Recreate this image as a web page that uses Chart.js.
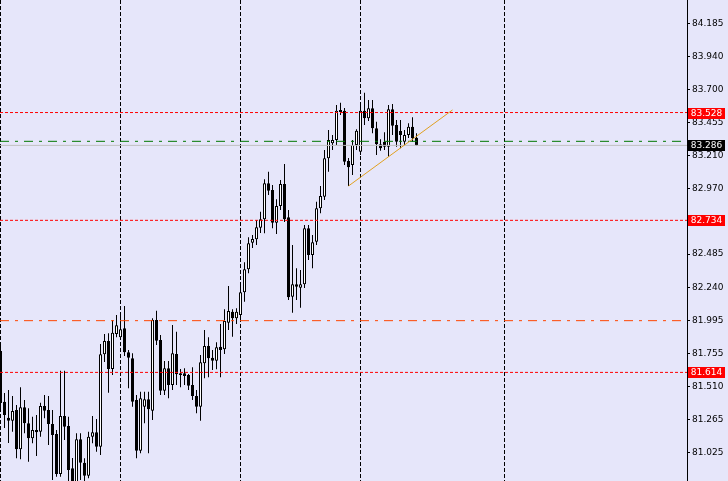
<!DOCTYPE html>
<html>
<head>
<meta charset="utf-8">
<script src="https://cdn.jsdelivr.net/npm/chart.js@4.4.0/dist/chart.umd.min.js"></script>
<style>
html, body { margin: 0; padding: 0; background: #E6E6FA; }
#wrap { width: 728px; height: 481px; }
</style>
</head>
<body>
<div id="wrap"><canvas id="chart"></canvas></div>
<script>
// OHLC, one value per bar, oldest first
const openPrices = [
    81.772, 81.398, 81.280, 81.258, 81.337, 81.047, 81.357, 81.239, 81.128, 81.190,
    81.177, 81.366, 81.337, 81.234, 81.160, 80.866, 81.293, 81.219, 80.907, 80.792,
    81.121, 80.949, 80.853, 81.140, 81.173, 81.067, 81.747, 81.845, 81.639, 81.897,
    81.872, 81.939, 81.762, 81.718, 81.411, 81.037, 81.361, 81.416, 81.332, 82.000,
    81.853, 81.479, 81.644, 81.521, 81.749, 81.607, 81.607, 81.595, 81.521, 81.440,
    81.361, 81.681, 81.808, 81.722, 81.700, 81.803, 81.784, 81.980, 82.061, 82.012,
    82.037, 82.204, 82.373, 82.569, 82.594, 82.680, 82.742, 83.007, 82.957, 82.717,
    82.840, 83.002, 82.756, 82.172, 82.263, 82.238, 82.263, 82.675, 82.479, 82.577,
    82.823, 82.908, 83.191, 83.301, 83.326, 83.532, 83.542, 83.171, 83.142, 83.289,
    83.240, 83.542, 83.486, 83.559, 83.412, 83.294, 83.313, 83.276, 83.552, 83.436,
    83.392, 83.313, 83.363, 83.424, 83.343
];
const highPrices = [
    81.838, 81.462, 81.484, 81.440, 81.374, 81.504, 81.411, 81.349, 81.288, 81.300,
    81.391, 81.447, 81.440, 81.337, 81.190, 81.626, 81.626, 81.288, 80.983, 81.165,
    81.165, 80.981, 81.177, 81.293, 81.271, 81.823, 81.897, 81.902, 82.000, 82.037,
    82.037, 82.103, 81.779, 81.755, 81.447, 81.472, 81.472, 81.472, 82.012, 82.068,
    81.889, 81.698, 81.698, 81.963, 81.914, 81.639, 81.644, 81.602, 81.651, 81.484,
    81.742, 81.926, 81.872, 81.779, 81.836, 81.970, 82.079, 82.250, 82.079, 82.086,
    82.258, 82.425, 82.609, 82.626, 82.736, 82.798, 83.036, 83.092, 82.994, 82.889,
    83.031, 83.149, 82.810, 82.552, 82.381, 82.368, 82.700, 82.700, 82.626, 82.871,
    82.987, 83.252, 83.399, 83.363, 83.584, 83.601, 83.561, 83.193, 83.326, 83.405,
    83.591, 83.674, 83.620, 83.620, 83.461, 83.331, 83.382, 83.584, 83.591, 83.473,
    83.473, 83.399, 83.449, 83.493, 83.375
];
const lowPrices = [
    81.337, 81.204, 81.094, 81.177, 80.981, 80.974, 81.165, 80.956, 81.092, 80.998,
    81.140, 81.276, 81.079, 80.821, 80.846, 80.846, 81.116, 80.784, 80.733, 80.748,
    80.821, 80.792, 80.834, 81.092, 81.030, 81.005, 81.691, 81.464, 81.595, 81.872,
    81.853, 81.735, 81.497, 81.361, 80.981, 81.018, 81.239, 81.018, 81.263, 81.816,
    81.447, 81.447, 81.423, 81.484, 81.521, 81.504, 81.521, 81.484, 81.411, 81.313,
    81.258, 81.570, 81.578, 81.632, 81.637, 81.578, 81.749, 81.926, 81.877, 81.970,
    82.005, 82.135, 82.344, 82.530, 82.552, 82.641, 82.639, 82.921, 82.675, 82.633,
    82.810, 82.722, 82.147, 82.054, 82.147, 82.090, 82.236, 82.442, 82.381, 82.552,
    82.786, 82.884, 83.092, 83.252, 83.289, 83.510, 83.142, 82.987, 83.068, 83.252,
    83.215, 83.436, 83.466, 83.375, 83.215, 83.247, 83.252, 83.203, 83.363, 83.276,
    83.265, 83.289, 83.340, 83.313, 83.281
];
const closePrices = [
    81.389, 81.300, 81.258, 81.330, 81.047, 81.357, 81.239, 81.128, 81.190, 81.173,
    81.366, 81.332, 81.234, 81.153, 80.866, 81.293, 81.214, 80.895, 80.777, 81.121,
    80.949, 80.853, 81.140, 81.173, 81.067, 81.747, 81.845, 81.639, 81.906, 81.961,
    81.931, 81.762, 81.722, 81.398, 81.037, 81.423, 81.416, 81.342, 82.000, 81.847,
    81.479, 81.644, 81.521, 81.755, 81.600, 81.595, 81.587, 81.516, 81.440, 81.361,
    81.688, 81.808, 81.718, 81.700, 81.799, 81.779, 81.993, 82.066, 82.012, 82.061,
    82.204, 82.373, 82.565, 82.597, 82.683, 82.742, 83.007, 82.952, 82.717, 82.840,
    83.002, 82.742, 82.167, 82.263, 82.245, 82.263, 82.675, 82.479, 82.572, 82.823,
    82.913, 83.191, 83.326, 83.326, 83.542, 83.547, 83.166, 83.125, 83.289, 83.394,
    83.542, 83.486, 83.559, 83.412, 83.294, 83.265, 83.276, 83.552, 83.431, 83.313,
    83.363, 83.363, 83.424, 83.338, 83.286
];

// right axis price ticks
const priceTicks = [84.185, 83.940, 83.700, 83.455, 83.210, 82.970, 82.725,
    82.485, 82.240, 81.995, 81.755, 81.510, 81.265, 81.025];
// bars where the vertical separators sit
const gridBars = [0, 30, 60, 90, 126];

// horizontal levels
const redLevels = [83.528, 82.734, 81.614];
const dashDotLevel = 81.995;
const greenLevel = 83.316;
const bidPrice = 83.286;

// trend line (bar index, price)
const trendBars = [87, 113];
const trendPrices = [82.987, 83.547];

// view window
const X_MIN = -0.125, X_MAX = 171.625;
const Y_MIN = 80.814, Y_MAX = 84.357;

const barIdx = openPrices.map((_, i) => i);
const isBull = barIdx.map(i => closePrices[i] >= openPrices[i]);

function hLine(v, color, dash) {
    return {
        type: 'line',
        data: [{ x: X_MIN, y: v }, { x: X_MAX, y: v }],
        borderColor: color,
        borderWidth: 1,
        borderDash: dash,
        pointRadius: 0,
        fill: false,
        order: 1
    };
}

// price tags on the right axis
const priceTags = {
    id: 'priceTags',
    afterDraw(chart) {
        const ctx = chart.ctx;
        const y = chart.scales.y;
        const tags = redLevels.map(v => [v, '#FF0000']).concat([[bidPrice, '#000000']]);
        ctx.save();
        ctx.font = '9px "DejaVu Sans"';
        ctx.textAlign = 'center';
        ctx.textBaseline = 'middle';
        tags.forEach(([v, bg]) => {
            const py = Math.round(y.getPixelForValue(v));
            ctx.fillStyle = bg;
            ctx.fillRect(688, py - 5, 37, 11);
            ctx.fillStyle = '#FFFFFF';
            ctx.fillText(v.toFixed(3), 706.5, py + 0.5);
        });
        ctx.restore();
    }
};

const ctx = document.getElementById('chart').getContext('2d');
new Chart(ctx, {
    type: 'bar',
    data: {
        datasets: [
            {
                // wicks
                data: barIdx.map(i => ({ x: i, y: [lowPrices[i], highPrices[i]] })),
                backgroundColor: '#000000',
                borderWidth: 0,
                barThickness: 1,
                grouped: false,
                inflateAmount: 0,
                order: 3
            },
            {
                // bodies
                data: barIdx.map(i => ({ x: i, y: [openPrices[i], closePrices[i]] })),
                backgroundColor: barIdx.map(i => isBull[i] ? '#FFFFFF' : '#000000'),
                borderColor: '#000000',
                borderWidth: 1,
                borderSkipped: false,
                barThickness: 3,
                grouped: false,
                inflateAmount: 0,
                order: 2
            },
            hLine(bidPrice, '#C0C0C0', []),
            hLine(greenLevel, '#007800', [9, 6, 3, 6]),
            hLine(dashDotLevel, '#FF4500', [9, 6, 3, 6]),
            ...redLevels.map(v => hLine(v, '#FF0000', [3, 2])),
            {
                type: 'line',
                data: trendBars.map((b, i) => ({ x: b, y: trendPrices[i] })),
                borderColor: '#E0A020',
                borderWidth: 1,
                pointRadius: 0,
                fill: false,
                order: 0
            }
        ]
    },
    options: {
        responsive: true,
        maintainAspectRatio: false,
        animation: false,
        events: [],
        layout: { padding: 0 },
        plugins: { legend: { display: false }, tooltip: { enabled: false } },
        scales: {
            x: {
                type: 'linear',
                min: X_MIN,
                max: X_MAX,
                offset: false,
                afterBuildTicks: s => { s.ticks = gridBars.map(v => ({ value: v })); },
                afterFit: s => { s.height = 0; s.paddingLeft = 0; s.paddingRight = 0; },
                ticks: { display: false },
                grid: { offset: false, drawTicks: false, color: '#000000', lineWidth: 1 },
                border: { display: false, dash: [4, 2] }
            },
            y: {
                position: 'right',
                min: Y_MIN,
                max: Y_MAX,
                afterBuildTicks: s => { s.ticks = priceTicks.map(v => ({ value: v })); },
                afterFit: s => { s.width = 41; s.paddingTop = 0; s.paddingBottom = 0; },
                grid: { drawOnChartArea: false, drawTicks: true, tickLength: 3, tickColor: '#000000' },
                border: { display: true, color: '#000000', width: 1 },
                ticks: {
                    autoSkip: false,
                    padding: 2,
                    color: '#000000',
                    font: { family: 'DejaVu Sans', size: 9 },
                    callback: v => Number(v).toFixed(3)
                }
            }
        }
    },
    plugins: [priceTags]
});
</script>
</body>
</html>
